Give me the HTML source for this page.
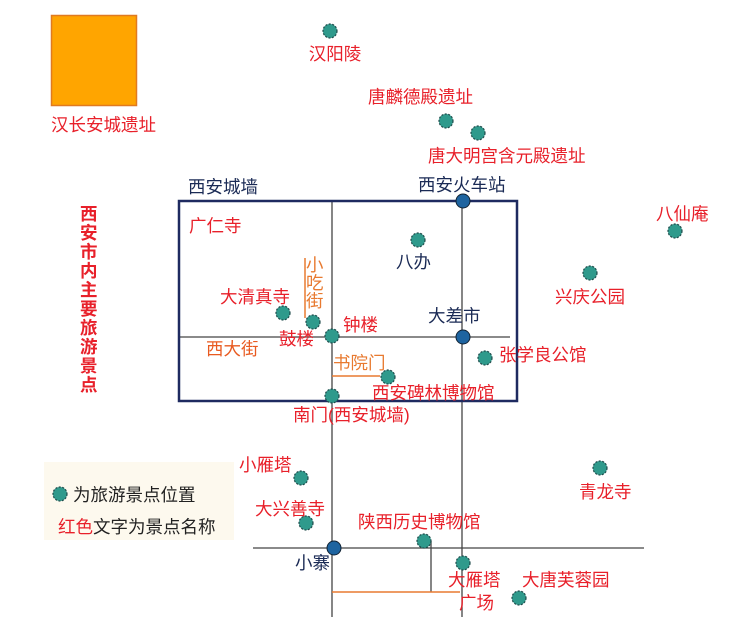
<!DOCTYPE html>
<html><head><meta charset="utf-8"><style>
html,body{margin:0;padding:0;background:#fff;}
svg{display:block;}
text{font-family:"Liberation Sans","Noto Sans CJK SC",sans-serif;font-size:17.5px;}
.r{fill:#e8202a;}
.b{fill:#1a2a55;}
</style></head><body>
<svg width="747" height="642" viewBox="0 0 747 642" xmlns="http://www.w3.org/2000/svg">
<rect x="0" y="0" width="747" height="642" fill="#fff"/>
<rect x="51.5" y="15.5" width="85" height="90" fill="#ffa500" stroke="#e07a20" stroke-width="1.5"/>
<text x="51" y="131" class="r">汉长安城遗址</text>
<rect x="44" y="462" width="190" height="78" fill="#fdf9ee"/>
<g stroke="#444" stroke-width="1.3">
<line x1="332" y1="200" x2="332" y2="617"/>
<line x1="462" y1="200" x2="462" y2="617"/>
<line x1="178" y1="337" x2="510" y2="337"/>
<line x1="253" y1="548" x2="644" y2="548"/>
<line x1="431" y1="541" x2="431" y2="592"/>
</g>
<g stroke="#e87a30" stroke-width="1.5">
<line x1="305" y1="258" x2="305" y2="318"/>
<line x1="332" y1="376" x2="380" y2="376"/>
<line x1="332" y1="592" x2="460" y2="592"/>
</g>
<rect x="179" y="201" width="338" height="200" fill="none" stroke="#1e2a60" stroke-width="2.5"/>
<g fill="#2f9a8c" stroke="#1f4a4a" stroke-width="1.2" stroke-dasharray="2,1.5">
<circle cx="330" cy="31" r="7"/>
<circle cx="446" cy="121" r="7"/>
<circle cx="478" cy="133" r="7"/>
<circle cx="418" cy="240" r="7"/>
<circle cx="283" cy="313" r="7"/>
<circle cx="313" cy="322" r="7"/>
<circle cx="332" cy="336" r="7"/>
<circle cx="485" cy="358" r="7"/>
<circle cx="388" cy="377" r="7"/>
<circle cx="332" cy="396" r="7"/>
<circle cx="590" cy="273" r="7"/>
<circle cx="675" cy="231" r="7"/>
<circle cx="301" cy="478" r="7"/>
<circle cx="306" cy="523" r="7"/>
<circle cx="424" cy="541" r="7"/>
<circle cx="463" cy="563" r="7"/>
<circle cx="519" cy="598" r="7"/>
<circle cx="600" cy="468" r="7"/>
<circle cx="60" cy="494" r="7"/>
</g>
<g fill="#1e64a0" stroke="#123" stroke-width="1">
<circle cx="463" cy="201" r="7"/>
<circle cx="463" cy="337" r="7"/>
<circle cx="334" cy="548" r="7"/>
</g>
<text x="335" y="60" class="r" text-anchor="middle">汉阳陵</text>
<text x="368" y="103" class="r">唐麟德殿遗址</text>
<text x="428" y="162" class="r">唐大明宫含元殿遗址</text>
<text x="188" y="193" class="b">西安城墙</text>
<text x="418" y="191" class="b">西安火车站</text>
<text x="189" y="232" class="r">广仁寺</text>
<text x="396" y="268" class="b">八办</text>
<text x="220" y="303" class="r">大清真寺</text>
<text x="306" y="271" class="r" style="fill:#e87a30">小</text>
<text x="306" y="289" class="r" style="fill:#e87a30">吃</text>
<text x="306" y="307" class="r" style="fill:#e87a30">街</text>
<text x="343" y="331" class="r">钟楼</text>
<text x="279" y="345" class="r">鼓楼</text>
<text x="206" y="355" class="r" style="fill:#e85a20">西大街</text>
<text x="428" y="322" class="b">大差市</text>
<text x="333" y="369" class="r" style="fill:#e87a30">书院门</text>
<text x="372" y="399" class="r">西安碑林博物馆</text>
<text x="293" y="421" class="r">南门(西安城墙)</text>
<text x="499" y="361" class="r">张学良公馆</text>
<text x="555" y="303" class="r">兴庆公园</text>
<text x="656" y="220" class="r">八仙庵</text>
<g class="r" style="font-weight:bold;font-size:17px">
<text x="80" y="220">西</text><text x="80" y="239">安</text><text x="80" y="258">市</text><text x="80" y="277">内</text><text x="80" y="296">主</text><text x="80" y="315">要</text><text x="80" y="334">旅</text><text x="80" y="353">游</text><text x="80" y="372">景</text><text x="80" y="391">点</text>
</g>
<text x="73" y="501" fill="#222">为旅游景点位置</text>
<text x="58" y="533"><tspan class="r">红色</tspan><tspan fill="#222">文字为景点名称</tspan></text>
<text x="239" y="471" class="r">小雁塔</text>
<text x="255" y="515" class="r">大兴善寺</text>
<text x="358" y="528" class="r">陕西历史博物馆</text>
<text x="295" y="569" class="b">小寨</text>
<text x="448" y="586" class="r">大雁塔</text>
<text x="459" y="609" class="r">广场</text>
<text x="522" y="586" class="r">大唐芙蓉园</text>
<text x="579" y="498" class="r">青龙寺</text>
</svg>
</body></html>
